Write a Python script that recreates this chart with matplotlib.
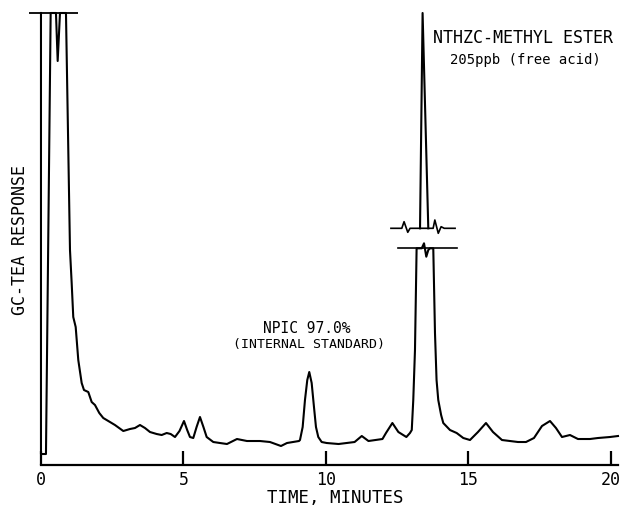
import matplotlib
matplotlib.use("Agg")
import matplotlib.pyplot as plt

# Retention time (min) and detector response of the GC-TEA trace
trace_t = [0.00, 0.00, 0.175, 0.34, 0.526, 0.586, 0.667, 0.877,
           1.018, 1.077, 1.133, 1.218, 1.309, 1.428, 1.509, 1.660, 1.779,
           1.895, 2.046, 2.186, 2.421, 2.596, 2.888, 3.123, 3.298, 3.474, 3.649,
           3.825, 4.060, 4.235, 4.411, 4.551, 4.702, 4.86, 5.018, 5.13, 5.228,
           5.344, 5.46, 5.579, 5.70, 5.814, 6.046, 6.281, 6.526, 6.877, 7.228,
           7.684, 8.035, 8.421, 8.632, 9.053, 9.088, 9.182, 9.263, 9.344, 9.414,
           9.498, 9.579, 9.649, 9.730, 9.849, 10.025, 10.442, 11.004, 11.256,
           11.491, 11.982, 12.105, 12.330, 12.540, 12.821, 12.947, 13.01, 13.063,
           13.123, 13.18, 13.36, 13.44, 13.52, 13.59, 13.65, 13.765, 13.825,
           13.88, 13.940, 14.04, 14.116, 14.351, 14.586, 14.818, 15.053, 15.333,
           15.614, 15.860, 16.175, 16.737, 17.018, 17.298, 17.579, 17.860,
           18.070, 18.281, 18.561, 18.842, 19.263, 19.544, 19.965, 20.246]
trace_v = [452, 11, 11, 452, 452, 404, 452, 452,
           215, 182, 148, 138, 105, 82, 75, 73, 63,
           60, 52, 47, 43, 40, 34, 36, 37, 40, 37,
           33, 31, 30, 32, 31, 28, 34, 44, 35, 28,
           27, 38, 48, 38, 28, 23, 22, 21, 26, 24,
           24, 23, 19, 22, 24, 25, 38, 65, 85, 93,
           82, 58, 38, 28, 23, 22, 21, 23, 29,
           24, 26, 32, 42, 33, 28, 32, 35, 65,
           115, 216.7, 216.7, 221.7, 208.3, 215, 216.7, 216.7, 132,
           85, 65, 50, 42, 35, 32, 27, 25, 33,
           42, 33, 25, 23, 23, 27, 39, 44,
           37, 28, 30, 26, 26, 27, 28, 29]

# Off-scale top of the NTHZC methyl ester peak, above the scale break
peak_top_t = [13.30, 13.39, 13.59]
peak_top_v = [236.7, 452, 236.7]

# Scale-break marks drawn across the NTHZC peak
break_hi_t = [12.28, 12.66, 12.74, 12.87, 12.95, 13.76, 13.82, 13.94, 14.04, 14.15, 14.53]
break_hi_v = [236.7, 236.7, 243.3, 232.7, 236.7, 236.7, 245, 231.7, 238.3, 236.7, 236.7]
break_lo_t = [12.52, 14.59]
break_lo_v = [216.7, 216.7]

# Full-scale pen limit over the solvent front
full_scale_t = [-0.42, 1.30]
full_scale_v = 452

xticks = [0, 5, 10, 15, 20]

font = "DejaVu Sans Mono"

fig = plt.figure(figsize=(6.25, 5.11), dpi=100)
ax = fig.add_axes([0.0382, 0.09, 0.9576, 0.91])

ax.plot(trace_t, trace_v, color="black", lw=1.5, solid_joinstyle="round")
ax.plot(peak_top_t, peak_top_v, color="black", lw=1.5)
ax.plot(break_hi_t, break_hi_v, color="black", lw=1.2)
ax.plot(break_lo_t, break_lo_v, color="black", lw=1.2)
ax.hlines(full_scale_v, *full_scale_t, color="black", lw=1.3)

ax.set_xlim(-0.6, 20.4)
ax.set_ylim(0, 465)

for side in ("left", "top", "right"):
    ax.spines[side].set_visible(False)
ax.spines["bottom"].set_bounds(0, 20.25)
ax.spines["bottom"].set_linewidth(1.6)
ax.set_yticks([])
ax.set_xticks(xticks)
ax.set_xticklabels([str(t) for t in xticks], fontfamily=font, fontsize=12)
ax.tick_params(axis="x", direction="in", length=10, width=1.6, pad=4)

ax.set_xlabel("TIME, MINUTES", fontfamily=font, fontsize=12.5)
ax.xaxis.set_label_coords(0.52, -0.052)
ax.set_ylabel("GC-TEA RESPONSE", fontfamily=font, fontsize=12)
ax.yaxis.set_label_coords(0.008, 0.484)

ax.text(9.33, 137, "NPIC 97.0%", ha="center", va="center", fontfamily=font, fontsize=10.5)
ax.text(9.40, 120.5, "(INTERNAL STANDARD)", ha="center", va="center", fontfamily=font, fontsize=9.5)
ax.text(16.91, 427, "NTHZC-METHYL ESTER", ha="center", va="center", fontfamily=font, fontsize=12)
ax.text(16.98, 405, "205ppb (free acid)", ha="center", va="center", fontfamily=font, fontsize=10)

fig.savefig("out.png", dpi=100)
